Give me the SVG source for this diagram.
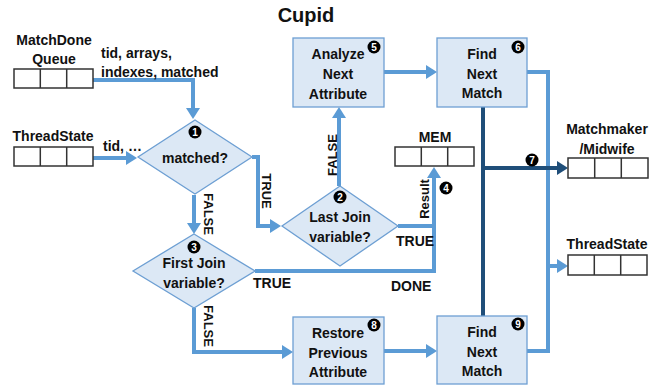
<svg xmlns="http://www.w3.org/2000/svg" width="662" height="390" viewBox="0 0 662 390">
<defs>
<style>
text{font-family:"Liberation Sans",Arial,sans-serif;font-weight:bold;fill:#111}
.t{font-size:14px;text-anchor:middle}
.lbl{font-size:14px}
.rot{font-size:13px}
.box{fill:#dce8f5;stroke:#6d9fd3;stroke-width:1.3}
.q{fill:#fff;stroke:#333;stroke-width:1.5}
.c{fill:none;stroke:#5b9bd5;stroke-width:4}
.d{fill:none;stroke:#1f4e79;stroke-width:4}
.num{fill:#000}
.nt{font-size:10px;fill:#fff;text-anchor:middle}
</style>
<marker id="ab" markerUnits="userSpaceOnUse" markerWidth="12" markerHeight="14" refX="1" refY="7" orient="auto"><path d="M0,0 L11,7 L0,14 z" fill="#5b9bd5"/></marker>
<marker id="ad" markerUnits="userSpaceOnUse" markerWidth="12" markerHeight="14" refX="1" refY="7" orient="auto"><path d="M0,0 L11,7 L0,14 z" fill="#1f4e79"/></marker>
</defs>
<rect width="662" height="390" fill="#fff"/>
<text x="306" y="22" style="font-size:20px;text-anchor:middle">Cupid</text>

<g id="connectors">
<path class="c" d="M93,80 H193 V109" marker-end="url(#ab)"/>
<path class="c" d="M93,158 H127" marker-end="url(#ab)"/>
<path class="c" d="M252,157 H258 V226 H271" marker-end="url(#ab)"/>
<path class="c" d="M194,195 V224" marker-end="url(#ab)"/>
<path class="c" d="M339,186 V117" marker-end="url(#ab)"/>
<path class="c" d="M384,72 H427" marker-end="url(#ab)"/>
<path class="c" d="M398,226 H434"/>
<path class="c" d="M255,271 H434 V177" marker-end="url(#ab)"/>
<path class="c" d="M527,72 H548 V351 H527"/>
<path class="c" d="M548,266 H558" marker-end="url(#ab)"/>
<path class="d" d="M483,107 V316"/>
<path class="d" d="M483,168 H558" marker-end="url(#ad)"/>
<path class="c" d="M194,308 V352 H283" marker-end="url(#ab)"/>
<path class="c" d="M384,351 H427" marker-end="url(#ab)"/>
<text class="lbl" x="101" y="58">tid, arrays,</text>
<text class="lbl" x="101" y="77">indexes, matched</text>
<text class="lbl" x="103" y="151">tid, …</text>
<text class="rot" transform="translate(262,191) rotate(90)" text-anchor="middle">TRUE</text>
<text class="rot" transform="translate(204,214) rotate(90)" text-anchor="middle">FALSE</text>
<text class="rot" transform="translate(204,326) rotate(90)" text-anchor="middle">FALSE</text>
<text class="rot" transform="translate(337,155) rotate(-90)" text-anchor="middle">FALSE</text>
<text class="rot" transform="translate(429,199) rotate(-90)" text-anchor="middle">Result</text>
<text class="lbl" x="396" y="246">TRUE</text>
<text class="lbl" x="253" y="288">TRUE</text>
<text class="lbl" x="391" y="291">DONE</text>
<circle class="num" cx="532" cy="160" r="6.5"/><text class="nt" x="532" y="164">7</text>
<circle class="num" cx="446" cy="188" r="6.5"/><text class="nt" x="446" y="192">4</text>
</g>

<g id="matchdone-queue">
<text class="t" x="54" y="45">MatchDone</text>
<text class="t" x="54" y="64">Queue</text>
<rect class="q" x="14" y="69" width="79" height="19"/>
<path d="M40.3,69 V88 M66.7,69 V88" stroke="#333" stroke-width="1.5"/>
</g>

<g id="threadstate-in">
<text class="t" x="53" y="141">ThreadState</text>
<rect class="q" x="14" y="147" width="79" height="19"/>
<path d="M40.3,147 V166 M66.7,147 V166" stroke="#333" stroke-width="1.5"/>
</g>

<g id="mem">
<text class="t" x="435" y="142">MEM</text>
<rect class="q" x="395" y="147" width="79" height="19"/>
<path d="M421.3,147 V166 M447.7,147 V166" stroke="#333" stroke-width="1.5"/>
</g>

<g id="matchmaker">
<text class="t" x="607" y="134">Matchmaker</text>
<text class="t" x="607" y="154">/Midwife</text>
<rect class="q" x="568" y="158" width="80" height="20"/>
<path d="M594.7,158 V178 M621.3,158 V178" stroke="#333" stroke-width="1.5"/>
</g>

<g id="threadstate-out">
<text class="t" x="607" y="249">ThreadState</text>
<rect class="q" x="568" y="255" width="79" height="20"/>
<path d="M594.3,255 V275 M620.7,255 V275" stroke="#333" stroke-width="1.5"/>
</g>

<g id="d1">
<path class="box" d="M195,120 L252,157 L195,194 L138,157 z"/>
<circle class="num" cx="195" cy="132" r="6.5"/><text class="nt" x="195" y="136">1</text>
<text class="t" x="195" y="163">matched?</text>
</g>

<g id="d2">
<path class="box" d="M340,186 L398,226 L340,266 L282,226 z"/>
<circle class="num" cx="340" cy="197" r="6.5"/><text class="nt" x="340" y="201">2</text>
<text class="t" x="340" y="222">Last Join</text>
<text class="t" x="340" y="242">variable?</text>
</g>

<g id="d3">
<path class="box" d="M194,234 L255,271 L194,308 L133,271 z"/>
<circle class="num" cx="194" cy="247" r="6.5"/><text class="nt" x="194" y="251">3</text>
<text class="t" x="194" y="268">First Join</text>
<text class="t" x="194" y="288">variable?</text>
</g>

<g id="analyze">
<rect class="box" x="293" y="38" width="91" height="69"/>
<text class="t" x="338" y="59">Analyze</text>
<text class="t" x="338" y="79">Next</text>
<text class="t" x="338" y="99">Attribute</text>
<circle class="num" cx="374" cy="47" r="6.5"/><text class="nt" x="374" y="51">5</text>
</g>

<g id="find6">
<rect class="box" x="437" y="38" width="90" height="69"/>
<text class="t" x="482" y="59">Find</text>
<text class="t" x="482" y="79">Next</text>
<text class="t" x="482" y="98">Match</text>
<circle class="num" cx="518" cy="47" r="6.5"/><text class="nt" x="518" y="51">6</text>
</g>

<g id="restore">
<rect class="box" x="293" y="317" width="91" height="67"/>
<text class="t" x="338" y="338">Restore</text>
<text class="t" x="338" y="358">Previous</text>
<text class="t" x="338" y="377">Attribute</text>
<circle class="num" cx="374" cy="325" r="6.5"/><text class="nt" x="374" y="329">8</text>
</g>

<g id="find9">
<rect class="box" x="437" y="316" width="90" height="68"/>
<text class="t" x="482" y="337">Find</text>
<text class="t" x="482" y="357">Next</text>
<text class="t" x="482" y="376">Match</text>
<circle class="num" cx="518" cy="324" r="6.5"/><text class="nt" x="518" y="328">9</text>
</g>
</svg>
